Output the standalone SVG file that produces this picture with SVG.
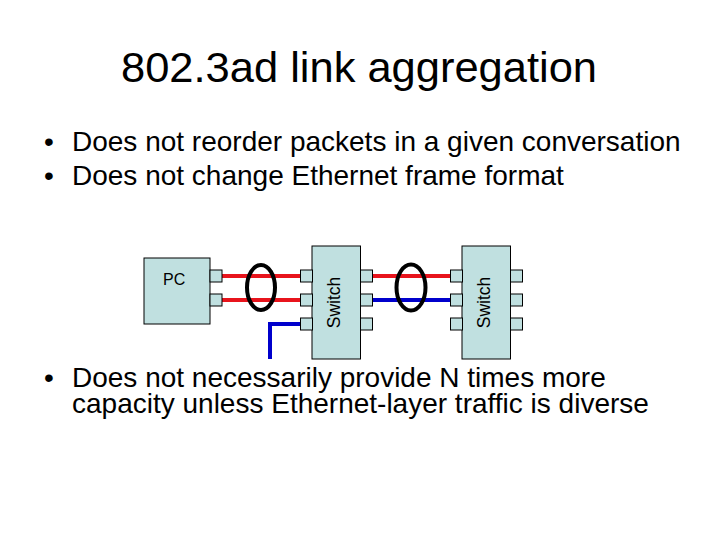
<svg xmlns="http://www.w3.org/2000/svg" width="720" height="540" viewBox="0 0 720 540">
<style>
.txt{font-family:"Liberation Sans",Arial,sans-serif;fill:#000}
.box{fill:#C0E0E0;stroke:#000;stroke-width:1}
.port{fill:#C0E0E0;stroke:#000;stroke-width:1}
.red{stroke:#E8141C;stroke-width:4;fill:none}
.blue{stroke:#0000CC;stroke-width:4;fill:none}
.ring{stroke:#000;stroke-width:4;fill:none}
</style>
<rect width="720" height="540" fill="#fff"/>
<text class="txt" x="121" y="82" font-size="42" textLength="476" lengthAdjust="spacingAndGlyphs">802.3ad link aggregation</text>
<g id="bullets">
<text class="txt" x="44" y="151" font-size="28">•</text>
<text class="txt" x="72" y="151" font-size="28">Does not reorder packets in a given conversation</text>
<text class="txt" x="44" y="185" font-size="28">•</text>
<text class="txt" x="72" y="185" font-size="28">Does not change Ethernet frame format</text>
<text class="txt" x="44" y="387" font-size="28">•</text>
<text class="txt" x="72" y="387" font-size="28">Does not necessarily provide N times more</text>
<text class="txt" x="72" y="413" font-size="28">capacity unless Ethernet-layer traffic is diverse</text>
</g>
<g id="connectors">
<line class="red" x1="222" y1="276" x2="301" y2="276"/>
<line class="red" x1="222" y1="300" x2="301" y2="300"/>
<polyline class="blue" points="301,324 270,324 270,359"/>
<line class="red" x1="372" y1="276" x2="451" y2="276"/>
<line class="blue" x1="372" y1="300" x2="451" y2="300"/>
<ellipse class="ring" cx="261" cy="287.5" rx="14" ry="22.5"/>
<ellipse class="ring" cx="411" cy="287.5" rx="14.5" ry="23"/>
</g>
<g id="pc">
<rect class="box" x="144" y="258" width="66" height="66"/>
<rect class="port" x="210" y="270" width="12" height="12"/>
<rect class="port" x="210" y="294" width="12" height="12"/>
<text class="txt" x="163" y="284.5" font-size="16">PC</text>
</g>
<g id="switch1">
<rect class="box" x="312" y="246" width="48.5" height="113"/>
<rect class="port" x="300.5" y="270" width="12" height="12"/>
<rect class="port" x="300.5" y="294" width="12" height="12"/>
<rect class="port" x="300.5" y="318" width="12" height="12"/>
<rect class="port" x="360.5" y="270" width="12" height="12"/>
<rect class="port" x="360.5" y="294" width="12" height="12"/>
<rect class="port" x="360.5" y="318" width="12" height="12"/>
<text class="txt" font-size="17.5" text-anchor="middle" transform="translate(340 302.5) rotate(-90)">Switch</text>
</g>
<g id="switch2">
<rect class="box" x="462" y="246" width="48.5" height="113"/>
<rect class="port" x="450.5" y="270" width="12" height="12"/>
<rect class="port" x="450.5" y="294" width="12" height="12"/>
<rect class="port" x="450.5" y="318" width="12" height="12"/>
<rect class="port" x="510.5" y="270" width="12" height="12"/>
<rect class="port" x="510.5" y="294" width="12" height="12"/>
<rect class="port" x="510.5" y="318" width="12" height="12"/>
<text class="txt" font-size="17.5" text-anchor="middle" transform="translate(490 302.5) rotate(-90)">Switch</text>
</g>
</svg>
